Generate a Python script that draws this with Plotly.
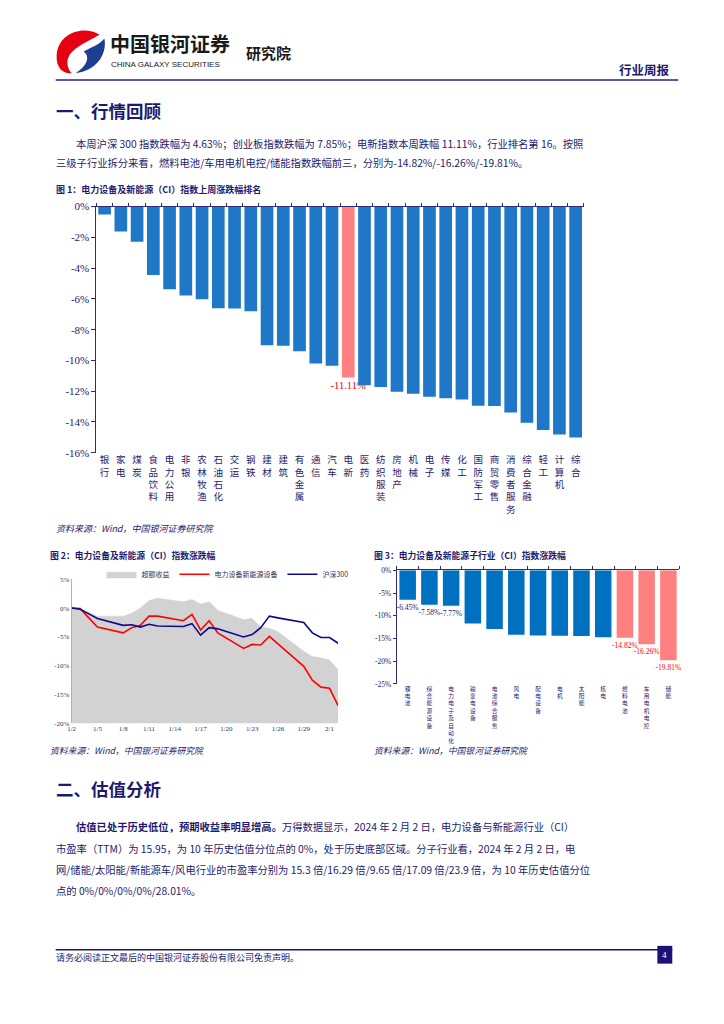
import plotly.graph_objects as go

W, H = 724, 1024


def px(x):
    return x / W


def py(y):
    return 1 - y / H


NAVY = "#1e1a6e"
AXIS = "#2e2b7a"
CJK = "Noto Sans CJK SC"
SERIF = "Liberation Serif"
BLUE1 = "#1f77c8"
BLUE3 = "#0070c0"
PINK = "#ff8080"
RED = "#ff0000"

# ---------------- Figure 1 data ----------------
cats1 = ["银行", "家电", "煤炭", "食品饮料", "电力公用", "非银", "农林牧渔", "石油石化",
         "交运", "钢铁", "建材", "建筑", "有色金属", "通信", "汽车", "电新", "医药",
         "纺织服装", "房地产", "机械", "电子", "传媒", "化工", "国防军工", "商贸零售",
         "消费者服务", "综合金融", "轻工", "计算机", "综合"]
vals1 = [-0.52, -1.61, -2.28, -4.45, -5.37, -5.78, -6.03, -6.60, -6.62, -6.81,
         -9.02, -9.04, -9.41, -10.20, -10.35, -11.11, -11.62, -11.73, -12.03, -12.16,
         -12.37, -12.46, -12.54, -12.95, -12.97, -13.38, -14.05, -14.52, -14.82, -15.01]
highlight1 = "电新"
yticks1 = [0, -2, -4, -6, -8, -10, -12, -14, -16]

# ---------------- Figure 2 data ----------------
dates2 = ["2024-01-02", "2024-01-03", "2024-01-04", "2024-01-05", "2024-01-08",
          "2024-01-09", "2024-01-10", "2024-01-11", "2024-01-12", "2024-01-15",
          "2024-01-16", "2024-01-17", "2024-01-18", "2024-01-19", "2024-01-22",
          "2024-01-23", "2024-01-24", "2024-01-25", "2024-01-26", "2024-01-29",
          "2024-01-30", "2024-01-31", "2024-02-01", "2024-02-02"]
excess2 = [0, -0.1, -0.7, -1.4, -1.4, -0.9, 0.0, 1.3, 1.7, 1.1, 1.5, 0.7, 1.1, -0.4,
           -2.0, -1.8, -3.3, -3.5, -4.1, -7.5, -8.4, -8.6, -9.0, -10.7]
sector2 = [0, -0.1, -1.7, -3.3, -4.3, -3.4, -3.0, -1.4, -1.4, -2.2, -1.1, -3.8, -2.2,
           -4.3, -7.0, -6.3, -6.4, -4.9, -6.2, -10.1, -12.5, -13.7, -13.9, -16.9]
hs300 = [0, -0.2, -1.0, -1.8, -3.0, -2.9, -3.3, -2.8, -3.1, -3.2, -2.7, -4.7, -3.4,
         -3.6, -5.0, -4.6, -3.4, -1.4, -1.7, -2.5, -4.3, -5.1, -5.1, -6.1]
names2 = ["超额收益", "电力设备新能源设备", "沪深300"]
yticks2 = [5, 0, -5, -10, -15, -20]

# ---------------- Figure 3 data ----------------
cats3 = ["锂电池", "综合能源设备", "电力电子及自动化", "输变电设备", "电池综合服务", "风电",
         "配电设备", "电机", "太阳能", "核电", "燃料电池", "车用电机电控", "储能"]
vals3 = [-6.45, -7.58, -7.77, -11.70, -12.90, -14.20, -14.35, -14.42, -14.45, -14.75,
         -14.82, -16.26, -19.81]
red3 = ["燃料电池", "车用电机电控", "储能"]
labeled3 = ["锂电池", "综合能源设备", "电力电子及自动化", "燃料电池", "车用电机电控", "储能"]
yticks3 = [0, -5, -10, -15, -20, -25]


def stack(s):
    return "<br>".join(list(s))


def pct(v):
    return f"{v}%"


fig = go.Figure()

# ---- Figure 1 bars ----
fig.add_trace(go.Bar(
    x=cats1, y=vals1, xaxis="x", yaxis="y", width=0.78,
    marker=dict(color=[PINK if c == highlight1 else BLUE1 for c in cats1], line=dict(width=0)),
    text=[f"{v:.2f}%" if c == highlight1 else "" for c, v in zip(cats1, vals1)],
    textposition="outside", cliponaxis=False, constraintext="none",
    textfont=dict(family=SERIF, size=10.5, color=RED),
    showlegend=False, hoverinfo="skip"))

# ---- Figure 2 ----
base2 = [min(yticks2)] * len(dates2)
fig.add_trace(go.Scatter(x=dates2, y=base2, xaxis="x2", yaxis="y2", mode="lines",
                         line=dict(width=0, color="rgba(0,0,0,0)"), showlegend=False,
                         hoverinfo="skip"))
fig.add_trace(go.Scatter(x=dates2, y=excess2, xaxis="x2", yaxis="y2", mode="lines",
                         fill="tonexty", fillcolor="#d2d2d2",
                         line=dict(width=0.5, color="#d2d2d2"), name=names2[0]))
fig.add_trace(go.Scatter(x=dates2, y=sector2, xaxis="x2", yaxis="y2", mode="lines",
                         line=dict(width=1.6, color=RED), name=names2[1]))
fig.add_trace(go.Scatter(x=dates2, y=hs300, xaxis="x2", yaxis="y2", mode="lines",
                         line=dict(width=1.6, color="#0a0a8c"), name=names2[2]))

# ---- Figure 3 bars ----
fig.add_trace(go.Bar(
    x=cats3, y=vals3, xaxis="x3", yaxis="y3", width=0.76,
    marker=dict(color=[PINK if c in red3 else BLUE3 for c in cats3], line=dict(width=0)),
    text=[f"{v:.2f}%" if c in labeled3 else "" for c, v in zip(cats3, vals3)],
    textposition="outside", cliponaxis=False, constraintext="none",
    textfont=dict(family=SERIF, size=7.5, color=[RED if c in red3 else NAVY for c in cats3]),
    showlegend=False, hoverinfo="skip"))

# invisible helpers so that top zero-line axes are drawn
fig.add_trace(go.Scatter(x=[0], y=[0], xaxis="x4", yaxis="y", mode="markers",
                         marker=dict(opacity=0), showlegend=False, hoverinfo="skip"))
fig.add_trace(go.Scatter(x=[0], y=[0], xaxis="x5", yaxis="y3", mode="markers",
                         marker=dict(opacity=0), showlegend=False, hoverinfo="skip"))

n1, n3 = len(cats1), len(cats3)

fig.update_layout(
    width=W, height=H, margin=dict(l=0, r=0, t=0, b=0),
    paper_bgcolor="white", plot_bgcolor="rgba(0,0,0,0)",
    font=dict(family=CJK, color=NAVY),
    # figure 1
    xaxis=dict(domain=[px(93), px(583)], anchor="y", type="category",
               range=[-0.5, n1 - 0.5], tickvals=cats1, ticktext=[stack(c) for c in cats1],
               tickfont=dict(family=CJK, size=9.5, color=NAVY), showline=False,
               ticks="", showgrid=False, zeroline=False, fixedrange=True),
    yaxis=dict(domain=[py(452), py(203)], anchor="x", range=[min(yticks1), max(yticks1)],
               tickvals=yticks1, ticktext=[pct(v) for v in yticks1],
               tickfont=dict(family=SERIF, size=11, color=NAVY), showline=True,
               linecolor=AXIS, linewidth=1, ticks="outside", ticklen=4, tickcolor=AXIS,
               showgrid=False, zeroline=False),
    xaxis4=dict(overlaying="x", anchor="y", side="top", range=[-0.5, n1 - 0.5],
                tickvals=[i - 0.5 for i in range(n1 + 1)], ticks="outside", ticklen=3,
                tickcolor=AXIS, showline=True, linecolor=AXIS, linewidth=1.2,
                showticklabels=False, showgrid=False, zeroline=False),
    # figure 2
    xaxis2=dict(domain=[px(68), px(336)], anchor="y2", type="date",
                range=[dates2[0], dates2[-1]], tick0=dates2[0], dtick=3 * 86400000,
                tickformat="%-m/%-d", tickfont=dict(family=SERIF, size=7, color="#333355"),
                showline=False, ticks="", showgrid=False, zeroline=False),
    yaxis2=dict(domain=[py(726), py(580)], anchor="x2", range=[min(yticks2), max(yticks2)],
                tickvals=yticks2, ticktext=[pct(v) for v in yticks2],
                tickfont=dict(family=SERIF, size=7, color="#333355"), showline=True,
                linecolor="#b0b0b0", linewidth=1, ticks="", showgrid=False, zeroline=False),
    # figure 3
    xaxis3=dict(domain=[px(395), px(679)], anchor="y3", type="category",
                range=[-0.5, n3 - 0.5], tickvals=cats3, ticktext=[stack(c) for c in cats3],
                tickfont=dict(family=CJK, size=5.7, color=NAVY), showline=False,
                ticks="", showgrid=False, zeroline=False),
    yaxis3=dict(domain=[py(686), py(571)], anchor="x3", range=[min(yticks3), max(yticks3)],
                tickvals=yticks3, ticktext=[pct(v) for v in yticks3],
                tickfont=dict(family=SERIF, size=7.5, color=NAVY), showline=True,
                linecolor=AXIS, linewidth=1, ticks="outside", ticklen=3, tickcolor=AXIS,
                showgrid=False, zeroline=False),
    xaxis5=dict(overlaying="x3", anchor="y3", side="top", range=[-0.5, n3 - 0.5],
                tickvals=[i - 0.5 for i in range(n3 + 1)], ticks="outside", ticklen=3,
                tickcolor=AXIS, showline=True, linecolor=AXIS, linewidth=1.2,
                showticklabels=False, showgrid=False, zeroline=False),
    legend=dict(orientation="h", x=px(98), y=py(575), xanchor="left", yanchor="middle",
                font=dict(family=CJK, size=7, color="#333355"), itemwidth=30,
                bgcolor="rgba(0,0,0,0)", traceorder="normal"),
)


def ann(text, x, y, size, color=NAVY, family=CJK, xanchor="left"):
    fig.add_annotation(text=text, x=px(x), y=py(y), xref="paper", yref="paper",
                       xanchor=xanchor, yanchor="middle", showarrow=False,
                       font=dict(family=family, size=size, color=color))


# header
ann("<b>中国银河证券</b>", 105, 38, 20, color="#1a1a1a")
ann("CHINA GALAXY SECURITIES", 106, 59, 8, color="#1a1a1a", family="Liberation Sans")
ann("<b>研究院</b>", 241, 47, 15, color="#1a1a1a")
ann("<b>行业周报</b>", 672, 64, 12.5, xanchor="right")

ann("<b>一、行情回顾</b>", 50, 106, 17.5)
ann("本周沪深 300 指数跌幅为 4.63%；创业板指数跌幅为 7.85%；电新指数本周跌幅 11.11%，行业排名第 16。按照",
    70, 139, 10.3)
ann("三级子行业拆分来看，燃料电池/车用电机电控/储能指数跌幅前三，分别为-14.82%/-16.26%/-19.81%。",
    50, 158, 10.3)
ann("<b>图 1：电力设备及新能源（CI）指数上周涨跌幅排名</b>", 50, 186, 9)
ann("<i>资料来源：Wind，中国银河证券研究院</i>", 50, 529, 9)

ann("<b>图 2：电力设备及新能源（CI）指数涨跌幅</b>", 44, 556, 8.8)
ann("<b>图 3：电力设备及新能源子行业（CI）指数涨跌幅</b>", 370, 556, 8.8)
ann("<i>资料来源：Wind，中国银河证券研究院</i>", 44, 753, 8.8)
ann("<i>资料来源：Wind，中国银河证券研究院</i>", 370, 753, 8.8)

ann("<b>二、估值分析</b>", 50, 792, 17.5)
ann("<b>估值已处于历史低位，预期收益率明显增高。</b>万得数据显示，2024 年 2 月 2 日，电力设备与新能源行业（CI）",
    70, 830, 10.3)
ann("市盈率（TTM）为 15.95，为 10 年历史估值分位点的 0%，处于历史底部区域。分子行业看，2024 年 2 月 2 日，电",
    50, 852, 10.3)
ann("网/储能/太阳能/新能源车/风电行业的市盈率分别为 15.3 倍/16.29 倍/9.65 倍/17.09 倍/23.9 倍，为 10 年历史估值分位",
    50, 874, 10.3)
ann("点的 0%/0%/0%/0%/28.01%。", 50, 895, 10.3)

ann("请务必阅读正文最后的中国银河证券股份有限公司免责声明。", 50, 963, 9)
ann("4", 664.5, 960, 9, color="white", family=SERIF, xanchor="center")


def line(x0, y0, x1, y1, color, width):
    fig.add_shape(type="line", xref="paper", yref="paper", x0=px(x0), y0=py(y0),
                  x1=px(x1), y1=py(y1), line=dict(color=color, width=width))


line(52, 75, 678, 75, "#5b58b0", 2)
line(52, 955, 672, 955, "#1a1373", 1.5)
fig.add_shape(type="rect", xref="paper", yref="paper", x0=px(657), x1=px(672),
              y0=py(951), y1=py(969), fillcolor="#1a1373", line=dict(width=0))


def path(segs):
    out = []
    for cmd, pts in segs:
        out.append(cmd + " " + " ".join(f"{px(a):.5f},{py(b):.5f}" for a, b in pts))
    return " ".join(out) + " Z"


red_logo = [("M", [(96, 29)]), ("C", [(80, 19), (55, 27), (53, 49)]),
            ("C", [(52, 62), (59, 69), (68, 68)]), ("C", [(61, 60), (63, 50), (71, 44)]),
            ("C", [(78, 38), (88, 34), (96, 29)])]
blue_logo = [("M", [(101, 33)]), ("C", [(104, 50), (92, 66), (72, 68)]),
             ("C", [(84, 60), (87, 51), (80, 46)]), ("C", [(88, 42), (96, 39), (101, 33)])]
fig.add_shape(type="path", xref="paper", yref="paper", path=path(red_logo),
              fillcolor="#e60012", line=dict(width=0))
fig.add_shape(type="path", xref="paper", yref="paper", path=path(blue_logo),
              fillcolor="#1d3f8f", line=dict(width=0))

fig.write_html("out.html", config={"displayModeBar": False},
               post_script="document.body.style.margin='0';"
                           "document.body.style.overflow='hidden';")
